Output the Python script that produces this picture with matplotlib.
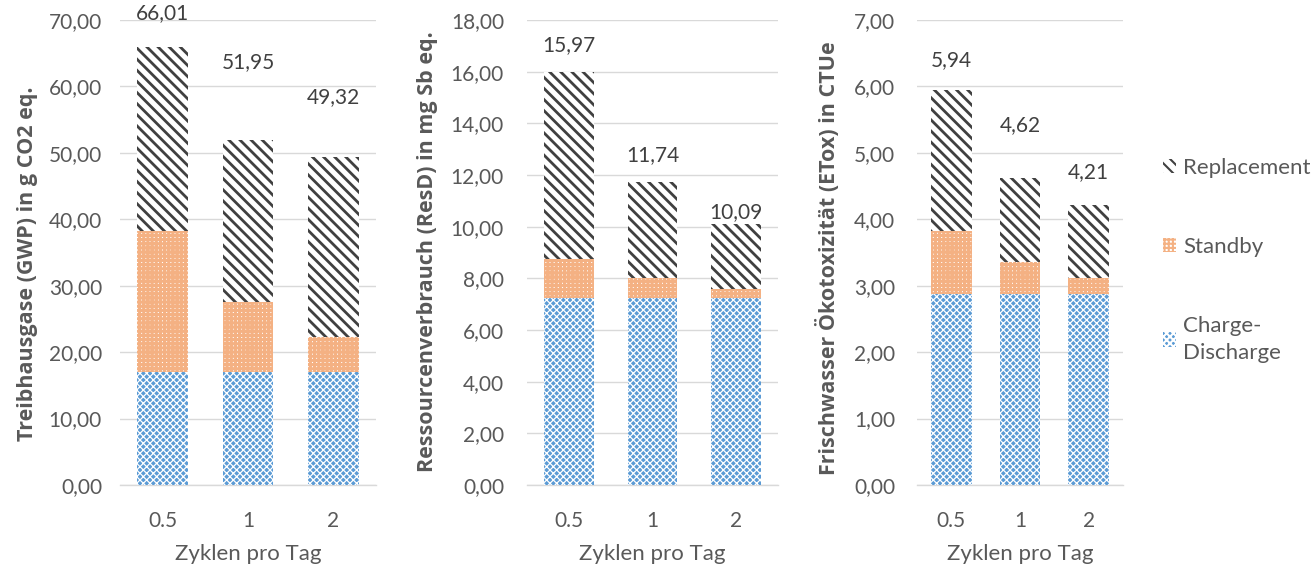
import matplotlib
matplotlib.use("Agg")
import matplotlib.pyplot as plt
from matplotlib.patches import Patch
import numpy as np

plt.rcParams['font.family'] = ['Lato', 'DejaVu Sans']
plt.rcParams['hatch.linewidth'] = 1.5

categories = ["0.5", "1", "2"]

gwp_charge = [17.0, 17.0, 17.0]
gwp_standby = [21.2, 10.6, 5.3]
gwp_total = [66.01, 51.95, 49.32]

resd_charge = [7.22, 7.22, 7.22]
resd_standby = [1.53, 0.78, 0.37]
resd_total = [15.97, 11.74, 10.09]

etox_charge = [2.87, 2.87, 2.87]
etox_standby = [0.95, 0.48, 0.25]
etox_total = [5.94, 4.62, 4.21]

ylabels = ["Treibhausgase (GWP) in g CO2 eq.",
           "Ressourcenverbrauch (ResD) in mg Sb eq.",
           "Frischwasser Ökotoxizität (ETox) in CTUe"]
ymax = [70, 18, 7]
ystep = [10, 2, 1]
xlabel = "Zyklen pro Tag"
legend_labels = ["Replacement", "Standby", "Charge-\nDischarge"]

TXT = '#595959'
GRID = '#D9D9D9'
BLUE = '#5B9BD5'
ORANGE = '#F4B183'
DARK = '#404040'

# (face, edge, hatch, hatch linewidth)
STY = {
    'charge': (BLUE, 'white', 'xxxxx', 0.9),
    'standby': ('white', ORANGE, '++++', 2.2),
    'repl': ('white', DARK, '\\\\\\', 2.0),
}

fig = plt.figure(figsize=(13.15, 5.69), dpi=100)
W, H = 1315, 569
axes_px = [(120, 376), (527, 778), (917, 1123)]
y0, y1 = 485, 20
label_off_px = [[33, 78, 60], [27, 27, 12], [30, 53, 33]]
tick_pad_px = [18, 23, 22]
ylabel_x_px = [28, 428, 828]
ylabel_y_px = [264, 252, 258]

datasets = [(gwp_charge, gwp_standby, gwp_total),
            (resd_charge, resd_standby, resd_total),
            (etox_charge, etox_standby, etox_total)]


def styled_bar(ax, x, h, bottom, key):
    face, edge, hatch, lw = STY[key]
    with plt.rc_context({'hatch.linewidth': lw, 'hatch.color': edge}):
        b = ax.bar(x, h, bottom=bottom, width=0.59, zorder=3,
                   facecolor=face, edgecolor=edge, hatch=hatch, linewidth=0)
    for p in b:
        if hasattr(p, 'set_hatch_linewidth'):
            p.set_hatch_linewidth(lw)
    return b


for i, ((xa, xb), (ch, sb, tot)) in enumerate(zip(axes_px, datasets)):
    ax = fig.add_axes([xa / W, (H - y0) / H, (xb - xa) / W, (y0 - y1) / H])
    x = np.arange(len(categories))
    ch = np.array(ch); sb = np.array(sb); tot = np.array(tot)
    rep = tot - ch - sb
    styled_bar(ax, x, ch, 0, 'charge')
    styled_bar(ax, x, sb, ch, 'standby')
    styled_bar(ax, x, rep, ch + sb, 'repl')
    for xi, t, off in zip(x, tot, label_off_px[i]):
        ax.annotate(f"{t:.2f}".replace('.', ','), (xi, t),
                    xytext=(0, off * 0.72), textcoords='offset points',
                    ha='center', va='center', fontsize=15, color='#404040')
    ax.set_xlim(-0.5, 2.5)
    ax.set_ylim(0, ymax[i])
    ticks = np.arange(0, ymax[i] + ystep[i] / 2, ystep[i])
    ax.set_yticks(ticks)
    ax.set_yticklabels([f"{t:.2f}".replace('.', ',') for t in ticks])
    ax.set_xticks(x)
    ax.set_xticklabels(categories)
    ax.grid(axis='y', color=GRID, linewidth=1, zorder=0)
    for s in ['top', 'right', 'left']:
        ax.spines[s].set_visible(False)
    ax.spines['bottom'].set_color(GRID)
    ax.spines['bottom'].set_linewidth(1)
    ax.tick_params(axis='both', length=0, labelsize=15, colors=TXT)
    ax.tick_params(axis='y', pad=tick_pad_px[i] * 0.72)
    ax.tick_params(axis='x', pad=19)
    ax.set_xlabel(xlabel, fontsize=16, color=TXT, labelpad=9)
    fig.text(ylabel_x_px[i] / W, (H - ylabel_y_px[i]) / H, ylabels[i],
             rotation=90, ha='center', va='center', fontsize=15.5,
             fontweight='bold', color=TXT, family=['Open Sans', 'DejaVu Sans'])

handles = []
for key in ['repl', 'standby', 'charge']:
    face, edge, hatch, lw = STY[key]
    with plt.rc_context({'hatch.linewidth': lw, 'hatch.color': edge}):
        h = Patch(facecolor=face, edgecolor=edge, hatch=hatch, linewidth=0)
    if hasattr(h, 'set_hatch_linewidth'):
        h.set_hatch_linewidth(lw)
    handles.append(h)
leg = fig.legend(handles, legend_labels, loc='upper left',
                 bbox_to_anchor=(1163 / W, (H - 158) / H), frameon=False,
                 fontsize=16, labelcolor=TXT, handlelength=0.6, handleheight=0.6,
                 handletextpad=0.3, labelspacing=2.65, borderaxespad=0, borderpad=0)
for t in leg.get_texts():
    t.set_linespacing(1.45)

fig.savefig("out.png", dpi=100)
